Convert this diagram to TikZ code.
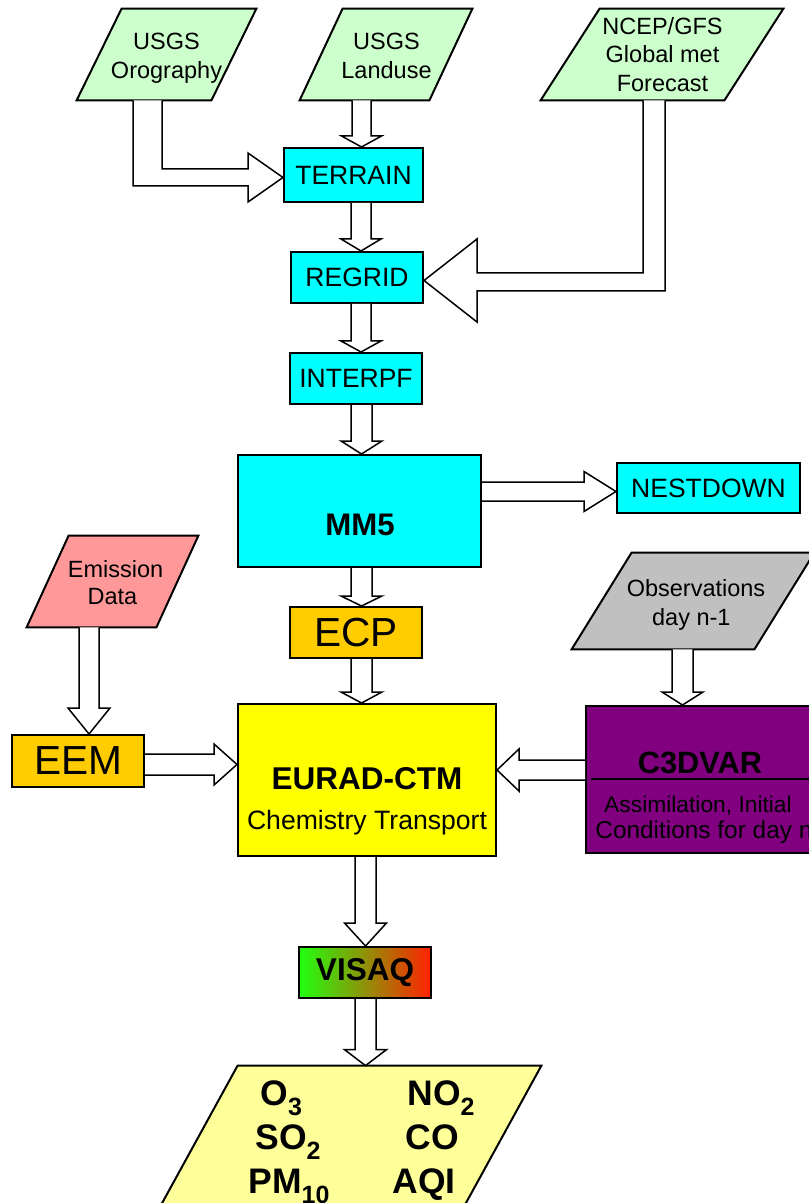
\documentclass[tikz,border=0pt]{standalone}
\usepackage{fontspec}
\setmainfont{Liberation Sans}
\usetikzlibrary{calc,backgrounds}

\definecolor{srcgreen}{HTML}{CCFFCC}
\definecolor{proccyan}{HTML}{00FFFF}
\definecolor{prepamber}{HTML}{FFCC00}
\definecolor{ctmyellow}{HTML}{FFFF00}
\definecolor{emispink}{HTML}{FF9999}
\definecolor{obsgrey}{HTML}{C0C0C0}
\definecolor{assimpurple}{HTML}{800080}
\definecolor{outyellow}{HTML}{FFFF99}
\definecolor{visgreen}{HTML}{22FF11}
\definecolor{visolive}{HTML}{C0B000}
\definecolor{visred}{HTML}{FF2200}

\tikzset{
  carrier/.style 2 args={inner sep=0pt, minimum width=#1*0.5pt, minimum height=#2*0.5pt},
  frame/.style={draw=black, line width=1pt},
  proc/.style={frame, fill=proccyan, font=\fontsize{13.25}{16}\selectfont},
  prep/.style={frame, fill=prepamber, font=\fontsize{20.3}{24}\selectfont},
  heavy/.style={inner sep=0pt, anchor=base, font=\bfseries\fontsize{15.6}{18}\selectfont},
  srctext/.style={anchor=base, inner sep=0pt, font=\fontsize{11.75}{14}\selectfont},
  species/.style={anchor=base west, inner sep=0pt, font=\bfseries\fontsize{17.75}{20}\selectfont},
  flow/.style={draw=black, fill=white, line width=0.75pt, line join=miter},
  outline/.style={draw=black, line width=1pt, line join=miter},
}

% parallelogram drawn behind an empty carrier node; #2 = half of the slant (px)
\newcommand\slantshape[3]{%
  \begin{pgfonlayer}{background}
    \filldraw[outline, fill=#3]
      ([xshift=#2*0.5pt]#1.north west) -- ([xshift=#2*0.5pt]#1.north east)
      -- ([xshift=-#2*0.5pt]#1.south east) -- ([xshift=-#2*0.5pt]#1.south west) -- cycle;
  \end{pgfonlayer}}

% block arrows: source, target, axis, shaft half width, head half width, head length
\newcommand\vflow[6]{%
  \draw[flow] let \p1=(#1.south), \p2=(#2.north) in
    (#3-#4,\y1) -- (#3-#4,\y2+#6*0.5pt) -- (#3-#5,\y2+#6*0.5pt) -- (#3,\y2)
    -- (#3+#5,\y2+#6*0.5pt) -- (#3+#4,\y2+#6*0.5pt) -- (#3+#4,\y1);}
\newcommand\rflow[6]{%
  \draw[flow] let \p1=(#1.east), \p2=(#2.west) in
    (\x1,#3-#4) -- (\x2-#6*0.5pt,#3-#4) -- (\x2-#6*0.5pt,#3-#5) -- (\x2,#3)
    -- (\x2-#6*0.5pt,#3+#5) -- (\x2-#6*0.5pt,#3+#4) -- (\x1,#3+#4);}
\newcommand\lflow[6]{%
  \draw[flow] let \p1=(#1.west), \p2=(#2.east) in
    (\x1,#3-#4) -- (\x2+#6*0.5pt,#3-#4) -- (\x2+#6*0.5pt,#3-#5) -- (\x2,#3)
    -- (\x2+#6*0.5pt,#3+#5) -- (\x2+#6*0.5pt,#3+#4) -- (\x1,#3+#4);}

\newcommand\chemsub[1]{\raisebox{-5pt}{\fontsize{12.5}{12.5}\selectfont #1}}

\begin{document}
\begin{tikzpicture}[x=0.5pt,y=-0.5pt]
\useasboundingbox (0,0) rectangle (808,1203);

% ---- input data (parallelograms)
\node[carrier={134}{91}] (oro) at (166.5,54.5) {};
\slantshape{oro}{22.5}{srcgreen}
\node[carrier={129}{91}] (landuse) at (386,54.5) {};
\slantshape{landuse}{21.5}{srcgreen}
\node[carrier={183}{91}] (ncep) at (662,54.5) {};
\slantshape{ncep}{29.5}{srcgreen}
\node[carrier={129}{91}] (emis) at (112.5,581.5) {};
\slantshape{emis}{21}{emispink}
\node[carrier={182}{96}] (obs) at (693,601) {};
\slantshape{obs}{30}{obsgrey}
\node[carrier={303}{174}] (out) at (341.5,1153) {};
\slantshape{out}{48}{outyellow}

\node[srctext] (oro-a) at (166.5,50) {USGS};
\node[srctext] (oro-b) at (166.5,78.3) {Orography};
\node[srctext] (landuse-a) at (386.5,50) {USGS};
\node[srctext] (landuse-b) at (386.5,78.3) {Landuse};
\node[srctext] (ncep-a) at (662.5,34.3) {NCEP/GFS};
\node[srctext] (ncep-b) at (662.5,63) {Global met};
\node[srctext] (ncep-c) at (662.5,91.7) {Forecast};
\node[srctext] (emis-a) at (115.5,577.3) {Emission};
\node[srctext] (emis-b) at (112.5,604) {Data};
\node[srctext] (obs-a) at (696,596.7) {Observations};
\node[srctext] (obs-b) at (691.3,625) {day n-1};

% ---- processing boxes
\node[proc, carrier={139}{54}] (terrain) at (353.5,175) {TERRAIN};
\node[proc, carrier={132}{51}] (regrid) at (357,277.5) {REGRID};
\node[proc, carrier={132}{51}] (interpf) at (356,378.5) {INTERPF};
\node[proc, carrier={243}{112}] (mm5) at (359.5,511) {};
\node[proc, carrier={183}{50}] (nestdown) at (708.5,488) {NESTDOWN};
\node[prep, carrier={132}{51}] (ecp) at (356,632.5) {ECP};
\node[prep, carrier={132}{52}] (eem) at (78,761) {EEM};
\node[frame, fill=ctmyellow, carrier={258}{152}] (eurad) at (367,780) {};
\node[frame, fill=assimpurple, carrier={230}{147}] (c3dvar) at (701,779.5) {};
\draw[outline] (591,779) -- (816,779);
\node[frame, left color=visgreen, middle color=visolive, right color=visred,
      carrier={132}{51}, font=\bfseries\fontsize{15.75}{18}\selectfont] (visaq) at (365,972.5) {VISAQ};

\node[heavy] (mm5-t) at (360,535) {MM5};
\node[heavy, font=\bfseries\fontsize{15.75}{18}\selectfont] (eurad-a) at (367,789) {EURAD-CTM};
\node[anchor=base, inner sep=0pt, font=\fontsize{13.3}{16}\selectfont] (eurad-b) at (367,829) {Chemistry Transport};
\node[heavy, font=\bfseries\fontsize{15.4}{18}\selectfont] (c3dvar-a) at (700,773) {C3DVAR};
\node[anchor=base, inner sep=0pt, font=\fontsize{11.4}{14}\selectfont] (c3dvar-b) at (698,812) {Assimilation, Initial};
\node[anchor=base west, inner sep=0pt, font=\fontsize{12.2}{14}\selectfont] (c3dvar-c) at (595,838) {Conditions for day n};

% ---- output species
\node[species] (o3) at (260,1105) {O\chemsub{3}};
\node[species] (so2) at (255,1149) {SO\chemsub{2}};
\node[species] (pm10) at (248,1193) {PM\chemsub{10}};
\node[species] (no2) at (407,1105) {NO\chemsub{2}};
\node[species] (co) at (405,1149) {CO};
\node[species] (aqi) at (392,1193) {AQI};

% ---- block arrows
\vflow{landuse}{terrain}{361.5}{9.5}{20}{11}
\vflow{terrain}{regrid}{361}{10}{20}{12}
\vflow{regrid}{interpf}{361}{10}{20}{11}
\vflow{interpf}{mm5}{361.5}{10.5}{20.5}{13}
\vflow{mm5}{ecp}{361.5}{10.5}{20.5}{10}
\vflow{ecp}{eurad}{361.5}{10.5}{20.5}{11}
\vflow{eurad}{visaq}{365.5}{10.5}{21}{23}
\vflow{visaq}{out}{365.5}{10.5}{21}{16}
\vflow{emis}{eem}{89}{10}{21}{26}
\vflow{obs}{c3dvar}{682.5}{10.5}{20.5}{13}
\rflow{eem}{eurad}{764.5}{10.5}{20.5}{23}
\rflow{mm5}{nestdown}{491.5}{9.5}{20}{32}
\lflow{c3dvar}{eurad}{770}{10}{21}{22}

% orography feeds TERRAIN with a bent arrow
\draw[flow] let \p1=(oro.south), \p2=(terrain.west) in
  (133,\y1) -- (133,186) -- (\x2-35*0.5pt,186) -- (\x2-35*0.5pt,202) -- (\x2,177.5)
  -- (\x2-35*0.5pt,153) -- (\x2-35*0.5pt,169) -- (162,169) -- (162,\y1);
% global forecast feeds REGRID with a bent arrow
\draw[flow] let \p1=(ncep.south), \p2=(regrid.east) in
  (643,\y1) -- (643,273) -- (\x2+53*0.5pt,273) -- (\x2+53*0.5pt,239) -- (\x2,280.5)
  -- (\x2+53*0.5pt,322) -- (\x2+53*0.5pt,291) -- (665,291) -- (665,\y1);
\end{tikzpicture}
\end{document}
